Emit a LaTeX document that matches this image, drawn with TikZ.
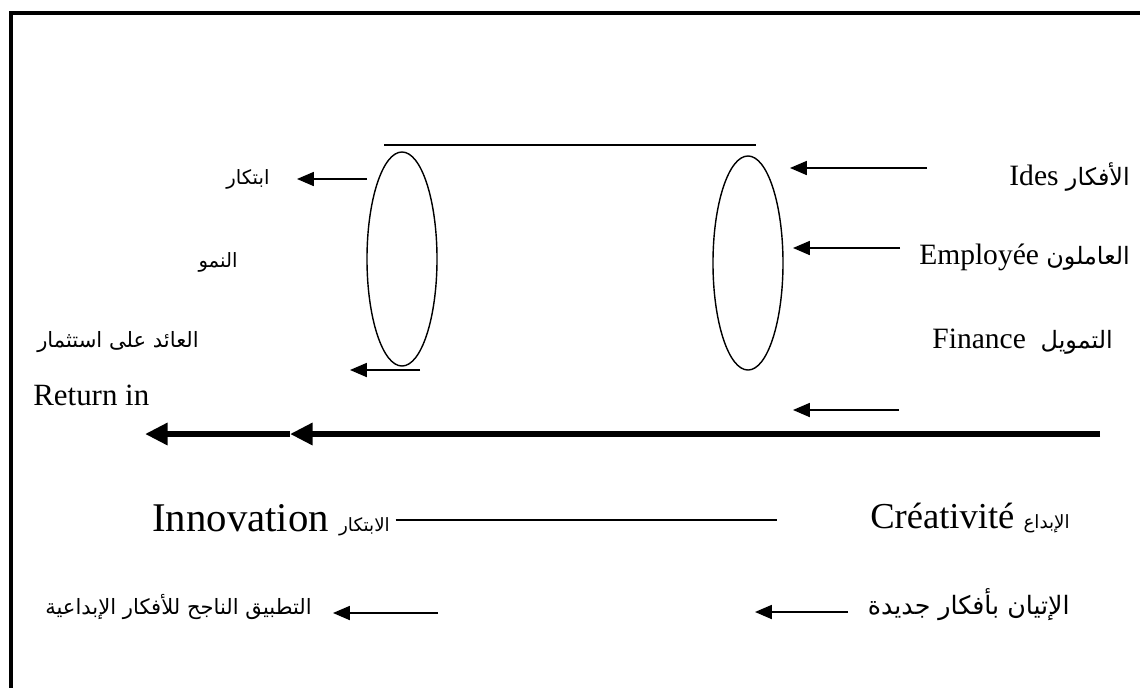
\documentclass[tikz,border=0pt]{standalone}
\usepackage{fontspec}
\setmainfont{Liberation Serif}
\newfontfamily\arabicfont[Script=Arabic]{DejaVu Sans}
\TeXXeTstate=1
\usetikzlibrary{arrows.meta,positioning,shapes.geometric}
\tikzset{
  ring/.style={draw, ellipse, line width=1pt, minimum width=1.75cm, minimum height=5.35cm, inner sep=0pt},
  thinarrow/.style={line width=1.1pt, -{Triangle[length=12pt,width=10pt]}},
  boldarrow/.style={line width=4.3pt, -{Triangle[length=16pt,width=15pt]}},
  txt/.style={inner sep=0pt, font=\fontsize{21}{24}\selectfont},
  bigtxt/.style={inner sep=0pt, font=\fontsize{26}{30}\selectfont},
  artxt/.style={inner sep=0pt, font=\arabicfont\fontsize{14}{17}\selectfont},
}
\newcommand{\arsz}[1]{\arabicfont\fontsize{#1}{#1}\selectfont}

\begin{document}
\begin{tikzpicture}[x=0.025cm, y=-0.025cm]
        \useasboundingbox (0,0) rectangle (1140,687);
        % Frame (open at right and bottom)
        \draw[line width=2.5pt] (11,700) -- (11,13) -- (1150,13);
        % Bar above the two rings
        \coordinate (barL) at (384,145);
        \coordinate (barR) at (756,145);
        \draw[line width=1pt] (barL) -- (barR);
        % Rings
        \node[ring] (outring) at (402,259) {};
        \node[ring] (inring) at (748,263) {};
        % Outputs (left)
        \node[artxt] (ibtikar) at (248,179) {\beginR ابتكار\endR};
        \node[artxt] (numuw) at (218,262) {\beginR النمو\endR};
        \node[artxt, font=\arsz{15}] (aaid) at (118,342) {\beginR العائد على استثمار\endR};
        \node[txt, font=\fontsize{22}{26}\selectfont, anchor=west] (retin) at (33,395) {Return in};
        \coordinate (ibtS) at (367,179);
        \coordinate (ibtE) at (297,179);
        \draw[thinarrow] (ibtS) -- (ibtE);
        \coordinate (outS) at (420,370);
        \coordinate (outE) at (350,370);
        \draw[thinarrow] (outS) -- (outE);
        % Inputs (right)
        \node[txt, anchor=east] (ideas) at (1130,177) {Ides {\arsz{17}\beginR الأفكار\endR}};
        \node[txt, anchor=east] (employ) at (1130,257) {Employée {\arsz{17}\beginR العاملون\endR}};
        \node[txt, anchor=east] (finance) at (1113,342) {Finance\ \ {\arsz{17}\beginR التمويل\endR}};
        \coordinate (ideaS) at (927,168);
        \coordinate (ideaE) at (790,168);
        \draw[thinarrow] (ideaS) -- (ideaE);
        \coordinate (empS) at (900,248);
        \coordinate (empE) at (793,248);
        \draw[thinarrow] (empS) -- (empE);
        \coordinate (finS) at (899,410);
        \coordinate (finE) at (793,410);
        \draw[thinarrow] (finS) -- (finE);
        % Main flow
        \coordinate (flowR) at (1100,434);
        \coordinate (flowM) at (290,434);
        \coordinate (flowL) at (145,434);
        \draw[boldarrow] (flowR) -- (flowM);
        \draw[boldarrow] (flowM) -- (flowL);
        % Creativity -- innovation
        \node[bigtxt, font=\fontsize{29}{33}\selectfont, anchor=west] (innov) at (152,520) {Innovation {\arsz{13}\beginR الابتكار\endR}};
        \node[bigtxt, anchor=east] (creat) at (1070,518) {Créativité {\arsz{13}\beginR الإبداع\endR}};
        \coordinate (linkR) at (777,518);
        \draw[line width=1pt] ([xshift=4pt]innov.east) -- (innov.east -| linkR);
        % Definitions
        \node[artxt, font=\arsz{18}, anchor=east] (ityan) at (1070,605) {\beginR الإتيان بأفكار جديدة\endR};
        \node[artxt, font=\arsz{15}, anchor=west] (tatbiq) at (45,607) {\beginR التطبيق الناجح للأفكار الإبداعية\endR};
        \coordinate (ityS) at (848,612);
        \coordinate (ityE) at (755,612);
        \draw[thinarrow] (ityS) -- (ityE);
        \coordinate (tatS) at (438,613);
        \coordinate (tatE) at (333,613);
        \draw[thinarrow] (tatS) -- (tatE);
      \end{tikzpicture}
\end{document}
